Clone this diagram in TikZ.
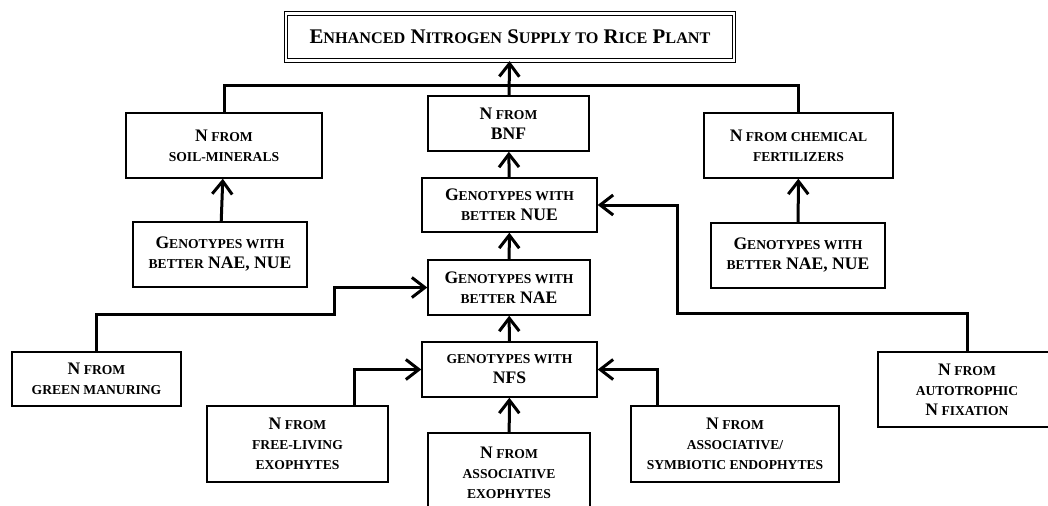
\documentclass[tikz,border=0pt]{standalone}
\usepackage{fontspec}
\setmainfont{Liberation Serif}
\usetikzlibrary{arrows.meta}
\newcommand\sm[1]{{\fontsize{6.8}{10}\selectfont #1}}
\newcommand\tsm[1]{{\fontsize{8.1}{12}\selectfont #1}}

\begin{document}
\begin{tikzpicture}[x=0.5pt,y=-0.5pt,
  box/.style={draw,line width=0.7pt,align=center,inner sep=0pt,
    font=\fontsize{8.8}{10}\selectfont\bfseries},
  link/.style={line width=1.5pt},
  arr/.style={line width=1.5pt,-{Straight Barb[length=6.5pt,width=10pt,line width=1.5pt]}}]
\useasboundingbox (0,0) rectangle (1048,505);

\node[box,double,double distance=1.2pt,line width=0.6pt,minimum width=224pt,minimum height=23.5pt,
  font=\fontsize{10.4}{12}\selectfont\bfseries] (title) at (510,37)
  {E\tsm{NHANCED} N\tsm{ITROGEN} S\tsm{UPPLY TO} R\tsm{ICE} P\tsm{LANT}};

\node[box,minimum width=80.5pt,minimum height=27.5pt] (bnf) at (508.5,123.5) {N\sm{ FROM}\\BNF};
\node[box,minimum width=98pt,minimum height=32.5pt] (soil) at (224,145.5) {N\sm{ FROM}\\\sm{SOIL-MINERALS}};
\node[box,minimum width=94.5pt,minimum height=32.5pt] (chem) at (798.5,145.5) {N\sm{ FROM CHEMICAL}\\\sm{FERTILIZERS}};
\node[box,minimum width=87pt,minimum height=32.5pt] (gl) at (220,254.5) {G\sm{ENOTYPES WITH}\\\sm{BETTER} NAE, NUE};
\node[box,minimum width=87pt,minimum height=32.5pt] (gr) at (798,255.5) {G\sm{ENOTYPES WITH}\\\sm{BETTER} NAE, NUE};
\node[box,minimum width=87.5pt,minimum height=27pt] (nue) at (509.5,205) {G\sm{ENOTYPES WITH}\\\sm{BETTER} NUE};
\node[box,minimum width=81pt,minimum height=27.5pt] (nae) at (509,287.5) {G\sm{ENOTYPES WITH}\\\sm{BETTER} NAE};
\node[box,minimum width=87.5pt,minimum height=27.5pt] (nfs) at (509.5,369.5) {\sm{GENOTYPES WITH}\\NFS};
\node[box,minimum width=84.5pt,minimum height=27pt] (green) at (96.5,379) {N\sm{ FROM}\\\sm{GREEN MANURING}};
\node[box,minimum width=89pt,minimum height=37.5pt] (auto) at (967,389.5) {N\sm{ FROM}\\\sm{AUTOTROPHIC}\\N\sm{ FIXATION}};
\node[box,minimum width=90.5pt,minimum height=38pt] (free) at (297.5,444) {N\sm{ FROM}\\\sm{FREE-LIVING}\\\sm{EXOPHYTES}};
\node[box,minimum width=81pt,minimum height=39.5pt] (axo) at (509,472.5) {N\sm{ FROM}\\\sm{ASSOCIATIVE}\\\sm{EXOPHYTES}};
\node[box,minimum width=104pt,minimum height=38pt] (symb) at (735,444) {N\sm{ FROM}\\\sm{ASSOCIATIVE/}\\\sm{SYMBIOTIC ENDOPHYTES}};

% bends of the connectors
\coordinate (hub) at (508,85);
\coordinate (gbend) at (334,314);
\coordinate (abend) at (677,313);
\coordinate (fbend) at (354,369);
\coordinate (sbend) at (657,370);

\draw[link] (soil.north) |- (hub) -| (chem.north);
\draw[arr] (bnf) -- (title);
\draw[arr] (gl) -- (soil);
\draw[arr] (gr) -- (chem);
\draw[arr] (nue) -- (bnf);
\draw[arr] (nae) -- (nue);
\draw[arr] (nfs) -- (nae);
\draw[arr] (axo) -- (nfs);
\draw[arr] (green.north) |- (gbend) |- (nae.west);
\draw[arr] (auto.north) |- (abend) |- (nue.east);
\draw[arr] (free.north -| fbend) |- (nfs.west);
\draw[arr] (symb.north -| sbend) |- (nfs.east);
\end{tikzpicture}
\end{document}
